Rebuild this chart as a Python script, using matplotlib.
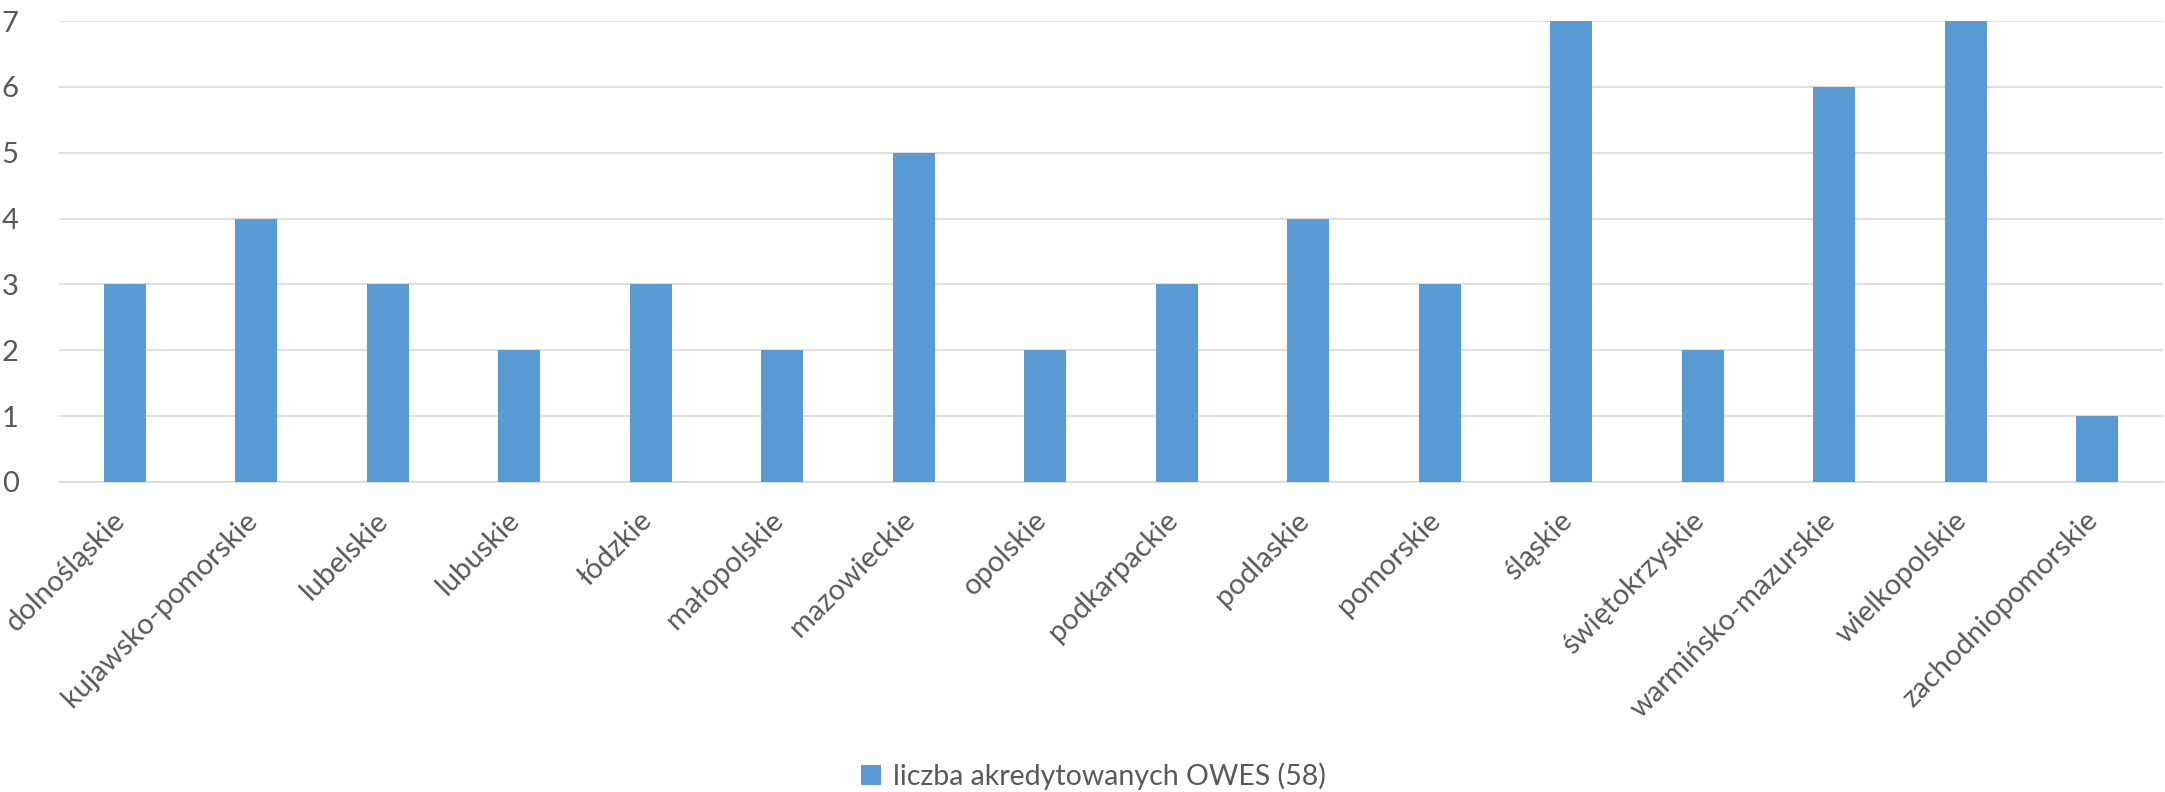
import numpy as np
import matplotlib
matplotlib.use("Agg")
import matplotlib.pyplot as plt
import matplotlib.transforms as mtransforms

# Dane: liczba akredytowanych OWES wg województw
wojewodztwa = [
    "dolnośląskie", "kujawsko-pomorskie", "lubelskie", "lubuskie", "łódzkie",
    "małopolskie", "mazowieckie", "opolskie", "podkarpackie", "podlaskie",
    "pomorskie", "śląskie", "świętokrzyskie", "warmińsko-mazurskie",
    "wielkopolskie", "zachodniopomorskie",
]
liczba_owes = [3, 4, 3, 2, 3, 2, 5, 2, 3, 4, 3, 7, 2, 6, 7, 1]
y_ticks = [0, 1, 2, 3, 4, 5, 6, 7]
seria = "liczba akredytowanych OWES (58)"

kolor_slupka = "#5b9bd5"
kolor_tekstu = "#595959"
kolor_siatki = "#d9d9d9"

plt.rcParams["font.family"] = ["Lato", "DejaVu Sans"]

fig = plt.figure(figsize=(21.65, 7.92), dpi=100)
ax = fig.add_axes([59 / 2165, 1 - 482 / 792, (2163 - 59) / 2165, (482 - 21) / 792])

x = np.arange(len(wojewodztwa))
ax.bar(x, liczba_owes, width=0.32, color=kolor_slupka, label=seria, zorder=3)

ax.set_xlim(-0.5, len(wojewodztwa) - 0.5)
ax.set_ylim(0, 7)
ax.set_yticks(y_ticks)
ax.yaxis.grid(True, color=kolor_siatki, linewidth=1.2, zorder=0)
ax.set_axisbelow(True)

for s in ["top", "right", "left"]:
    ax.spines[s].set_visible(False)
ax.spines["bottom"].set_color(kolor_siatki)
ax.spines["bottom"].set_linewidth(1.2)

ax.tick_params(axis="y", length=0, pad=29, labelsize=21, labelcolor=kolor_tekstu)
ax.tick_params(axis="x", length=0, pad=18, labelsize=21, labelcolor=kolor_tekstu)
ax.set_xticks(x)
ax.set_xticklabels(wojewodztwa, rotation=45, ha="right")

# lekkie przesunięcie etykiet w prawo (jak w Excelu)
przesun = mtransforms.ScaledTranslation(6 / 100, 0, fig.dpi_scale_trans)
for lbl in ax.get_xticklabels():
    lbl.set_transform(lbl.get_transform() + przesun)

# Legenda na dole
fig.legend(loc="center", bbox_to_anchor=(0.505, 1 - 776 / 792), frameon=False,
           fontsize=20.5, labelcolor=kolor_tekstu, handlelength=0.7, handleheight=0.7,
           handletextpad=0.4)

fig.savefig("out.png", dpi=100)
